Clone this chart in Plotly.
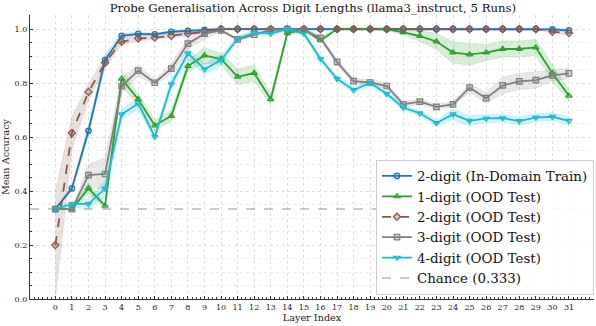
import plotly.graph_objects as go

layers = list(range(32))

# mean accuracy per layer
train_2d = [0.333, 0.41, 0.623, 0.885, 0.975, 0.982, 0.980, 0.990, 0.993, 0.997,
            1.0, 1.0, 1.0, 1.0, 1.0, 1.0, 1.0, 1.0, 1.0, 1.0,
            1.0, 1.0, 1.0, 1.0, 1.0, 1.0, 1.0, 1.0, 1.0, 1.0, 0.999, 0.995]
ood_1d = [0.333, 0.333, 0.41, 0.345, 0.816, 0.74, 0.643, 0.678, 0.863, 0.902,
          0.889, 0.823, 0.837, 0.74, 0.984, 1.0, 0.958, 1.0, 1.0, 1.0,
          1.0, 0.988, 0.974, 0.954, 0.913, 0.906, 0.913, 0.926, 0.926, 0.932, 0.836, 0.753]
ood_2d = [0.20, 0.615, 0.767, 0.875, 0.953, 0.965, 0.968, 0.975, 0.983, 0.99,
          1.0, 1.0, 1.0, 1.0, 1.0, 1.0, 1.0, 1.0, 1.0, 1.0,
          1.0, 1.0, 1.0, 1.0, 1.0, 1.0, 1.0, 1.0, 1.0, 1.0, 0.99, 0.985]
ood_3d = [0.333, 0.333, 0.459, 0.463, 0.789, 0.846, 0.801, 0.853, 0.946, 0.983,
          0.995, 0.962, 0.979, 0.996, 1.0, 0.997, 0.967, 0.878, 0.807, 0.802,
          0.789, 0.721, 0.731, 0.712, 0.721, 0.783, 0.744, 0.791, 0.806, 0.811, 0.828, 0.836]
ood_4d = [0.333, 0.352, 0.352, 0.409, 0.684, 0.724, 0.601, 0.796, 0.91, 0.851,
          0.885, 0.964, 0.987, 0.983, 1.0, 0.983, 0.89, 0.816, 0.774, 0.80,
          0.76, 0.709, 0.688, 0.652, 0.684, 0.66, 0.669, 0.67, 0.659, 0.672, 0.675, 0.66]

# spread across the 5 runs (half width of shaded band)
train_2d_sd = [0.0, 0.01, 0.02, 0.02, 0.01, 0.005, 0.005, 0.005, 0.005, 0.005,
               0.003, 0.003, 0.003, 0.003, 0.003, 0.003, 0.003, 0.003, 0.003, 0.003,
               0.003, 0.003, 0.003, 0.003, 0.003, 0.003, 0.003, 0.003, 0.003, 0.003, 0.004, 0.005]
ood_1d_sd = [0.0, 0.0, 0.02, 0.01, 0.03, 0.02, 0.02, 0.02, 0.02, 0.03,
             0.02, 0.03, 0.03, 0.02, 0.01, 0.005, 0.01, 0.003, 0.003, 0.003,
             0.005, 0.01, 0.02, 0.03, 0.04, 0.04, 0.03, 0.03, 0.03, 0.03, 0.03, 0.02]
ood_2d_sd = [0.2, 0.06, 0.03, 0.02, 0.01, 0.008, 0.008, 0.006, 0.005, 0.005,
             0.003, 0.003, 0.003, 0.003, 0.003, 0.003, 0.003, 0.003, 0.003, 0.003,
             0.003, 0.003, 0.003, 0.003, 0.003, 0.003, 0.003, 0.003, 0.003, 0.003, 0.005, 0.008]
ood_3d_sd = [0.0, 0.0, 0.04, 0.06, 0.03, 0.02, 0.01, 0.02, 0.02, 0.02,
             0.005, 0.005, 0.005, 0.005, 0.003, 0.005, 0.01, 0.01, 0.01, 0.01,
             0.01, 0.01, 0.01, 0.01, 0.01, 0.015, 0.02, 0.03, 0.03, 0.03, 0.02, 0.02]
ood_4d_sd = [0.0, 0.01, 0.02, 0.03, 0.02, 0.02, 0.01, 0.02, 0.02, 0.02,
             0.02, 0.01, 0.01, 0.01, 0.005, 0.01, 0.01, 0.01, 0.01, 0.01,
             0.01, 0.01, 0.01, 0.01, 0.02, 0.02, 0.015, 0.015, 0.015, 0.015, 0.015, 0.015]

CHANCE = 1 / 3

series = [
    ("2-digit (In-Domain Train)", train_2d, train_2d_sd, (31, 119, 180), "circle", "solid"),
    ("1-digit (OOD Test)", ood_1d, ood_1d_sd, (44, 160, 44), "triangle-up", "solid"),
    ("2-digit (OOD Test)", ood_2d, ood_2d_sd, (140, 86, 75), "diamond", "dash"),
    ("3-digit (OOD Test)", ood_3d, ood_3d_sd, (127, 127, 127), "square", "solid"),
    ("4-digit (OOD Test)", ood_4d, ood_4d_sd, (23, 190, 207), "triangle-down", "solid"),
]

def rgba(c, a):
    return f"rgba({c[0]},{c[1]},{c[2]},{a})"

fig = go.Figure()

# shaded bands first
for name, ys, sd, c, sym, dash in series:
    hi = [y + s for y, s in zip(ys, sd)]
    lo = [max(0, y - s) for y, s in zip(ys, sd)]
    fig.add_trace(go.Scatter(x=layers, y=hi, mode="lines", line=dict(width=0.5, color=rgba(c, 0.25)),
                             showlegend=False, hoverinfo="skip"))
    fig.add_trace(go.Scatter(x=layers, y=lo, mode="lines", line=dict(width=0.5, color=rgba(c, 0.25)),
                             fill="tonexty", fillcolor=rgba(c, 0.18), showlegend=False, hoverinfo="skip"))

for name, ys, sd, c, sym, dash in series:
    col = rgba(c, 1)
    fig.add_trace(go.Scatter(
        x=layers, y=ys, name=name, mode="lines+markers",
        line=dict(color=col, width=1.8, dash=dash),
        marker=dict(symbol=sym, size=5.5, color=rgba(c, 0.3), line=dict(color=col, width=1.2)),
    ))

fig.add_hline(y=CHANCE, line=dict(color="#888888", width=0.9, dash="dash"))
fig.add_trace(go.Scatter(x=[None], y=[None], mode="lines", name="Chance (0.333)",
                         line=dict(color="#888888", width=0.9, dash="dash")))

grid = dict(showgrid=True, gridcolor="#dedede", griddash="dot", gridwidth=0.8)
serif = "DejaVu Serif, Liberation Serif, serif"

fig.update_layout(
    width=596, height=326,
    margin=dict(l=30, r=2, t=15, b=27),
    paper_bgcolor="white", plot_bgcolor="white",
    font=dict(family=serif, size=8, color="#222222"),
    title=dict(text="Probe Generalisation Across Digit Lengths (llama3_instruct, 5 Runs)",
               x=0.525, xanchor="center", y=0.975, yanchor="middle",
               font=dict(size=11.7, color="#111111")),
    legend=dict(x=1.0, xanchor="right", y=0.015, yanchor="bottom", traceorder="normal",
                bgcolor="rgba(255,255,255,0.9)", bordercolor="#cccccc", borderwidth=1,
                font=dict(size=13.4, color="#111111"), itemwidth=30, tracegroupgap=0),
    showlegend=True,
)

fig.update_xaxes(
    range=[-1.53, 32.51], tickmode="array", tickvals=layers, ticktext=[str(i) for i in layers],
    ticks="inside", ticklen=3, tickcolor="#333333",
    showline=True, linecolor="#333333", linewidth=1.2, zeroline=False, automargin=False,
    minor=dict(dtick=0.25, ticks="inside", ticklen=1.5, tickcolor="#333333", showgrid=False),
    title=dict(text="Layer Index", font=dict(size=9.7), standoff=2),
    **grid,
)
fig.update_yaxes(
    range=[0, 1.052], tickmode="array", tickvals=[0, 0.2, 0.4, 0.6, 0.8, 1.0],
    ticktext=["0.0", "0.2", "0.4", "0.6", "0.8", "1.0"],
    ticks="inside", ticklen=3, tickcolor="#333333",
    showline=True, linecolor="#333333", linewidth=1.2, zeroline=False, automargin=False,
    minor=dict(dtick=0.05, ticks="inside", ticklen=1.5, tickcolor="#333333",
               showgrid=True, gridcolor="#ececec", griddash="dot"),
    title=dict(text="Mean Accuracy", font=dict(size=9.7), standoff=3),
    **grid,
)

# drop the default page margin so the figure sits at the window's corner
fig.write_html("out.html", config={"displayModeBar": False},
               post_script="document.body.style.margin='0';")
